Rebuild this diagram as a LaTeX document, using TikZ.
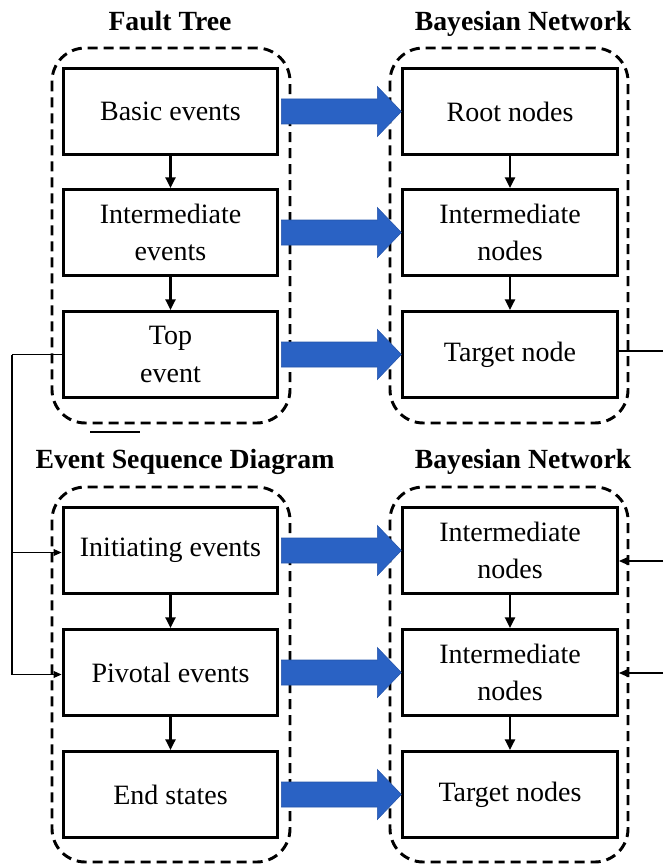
\documentclass[tikz,border=0pt]{standalone}
\usepackage{fontspec}
\setmainfont{Liberation Serif}
\usetikzlibrary{calc,arrows.meta}
\definecolor{arrblue}{RGB}{42,98,196}
\definecolor{arrblueedge}{RGB}{36,84,170}
\tikzset{
  stepbox/.style={draw, line width=2.3pt, minimum width=161pt, minimum height=64.5pt, align=center, inner sep=0pt, font=\fontsize{21}{28}\selectfont},
  container/.style={draw, line width=2.2pt, dash pattern=on 7.5pt off 4.5pt, rounded corners=25pt},
  heading/.style={font=\fontsize{20.8}{26}\selectfont\bfseries, anchor=base, inner sep=0pt},
  flow/.style={line width=1.8pt, -{Triangle[length=8pt,width=7.5pt]}},
  link/.style={line width=1.1pt},
  linkarrow/.style={line width=1.1pt, -{Triangle[length=6pt,width=5pt]}},
  bigarrow/.style={fill=arrblue, draw=arrblueedge, line width=0.4pt},
}
\begin{document}
\begin{tikzpicture}[x=0.75pt,y=-0.75pt]
\useasboundingbox (0,0) rectangle (663,866);
% containers
\draw[container] (52,48) rectangle (290,423);
\draw[container] (390,48) rectangle (628,423);
\draw[container] (52,487) rectangle (290,862);
\draw[container] (390,487) rectangle (628,862);
% headings
\node[heading] (h1) at (170,31) {Fault Tree};
\node[heading] (h2) at (523,31) {Bayesian Network};
\node[heading] (h3) at (185,468) {Event Sequence Diagram};
\node[heading] (h4) at (523,468) {Bayesian Network};
% left top boxes
\node[stepbox] (L1) at (170.5,111.5) {Basic events};
\node[stepbox] (L2) at (170.5,232.5) {Intermediate\\events};
\node[stepbox] (L3) at (170.5,354.5) {Top\\event};
% right top boxes
\node[stepbox] (R1) at (510,111.5) {Root nodes};
\node[stepbox] (R2) at (510,232.5) {Intermediate\\nodes};
\node[stepbox] (R3) at (510,354.5) {Target node};
% left bottom boxes
\node[stepbox] (L4) at (170.5,550.5) {Initiating events};
\node[stepbox] (L5) at (170.5,672.5) {Pivotal events};
\node[stepbox] (L6) at (170.5,794.5) {End states};
% right bottom boxes
\node[stepbox] (R4) at (510,550.5) {Intermediate\\nodes};
\node[stepbox] (R5) at (510,672.5) {Intermediate\\nodes};
\node[stepbox] (R6) at (510,794.5) {Target nodes};
% vertical flows
\draw[flow] (L1) -- (L2);
\draw[flow] (L2) -- (L3);
\draw[flow] (R1) -- (R2);
\draw[flow] (R2) -- (R3);
\draw[flow] (L4) -- (L5);
\draw[flow] (L5) -- (L6);
\draw[flow] (R4) -- (R5);
\draw[flow] (R5) -- (R6);
% blue block arrows
\foreach \a/\b in {L1/R1,L2/R2,L3/R3,L4/R4,L5/R5,L6/R6}{
  \draw[bigarrow] ($(\a.east)+(2,-12.5)$) -- ++(96,0) -- ++(0,-12.5) -- ++(24,25) -- ++(-24,25) -- ++(0,-12.5) -- ++(-96,0) -- cycle;
}
% short line under fault tree container
\coordinate (u1) at (90,432);
\coordinate (u2) at (140,432);
\draw[line width=1.5pt] (u1) -- (u2);
% left link from top event to ESD
\coordinate (lk) at (12,354.5);
\draw[link] (L3.west) -- (lk);
\draw[linkarrow] (lk) |- ($(L4.west)+(0,2)$);
\draw[linkarrow] (lk) |- ($(L5.west)+(0,2)$);
% right links
\coordinate (rk1) at (663,351);
\coordinate (rk2) at (663,561);
\coordinate (rk3) at (663,673);
\draw[link] ($(R3.east)+(0,-3.5)$) -- (rk1);
\draw[linkarrow] (rk2) -- (R4.east |- rk2);
\draw[linkarrow] (rk3) -- (R5.east |- rk3);
\end{tikzpicture}
\end{document}
